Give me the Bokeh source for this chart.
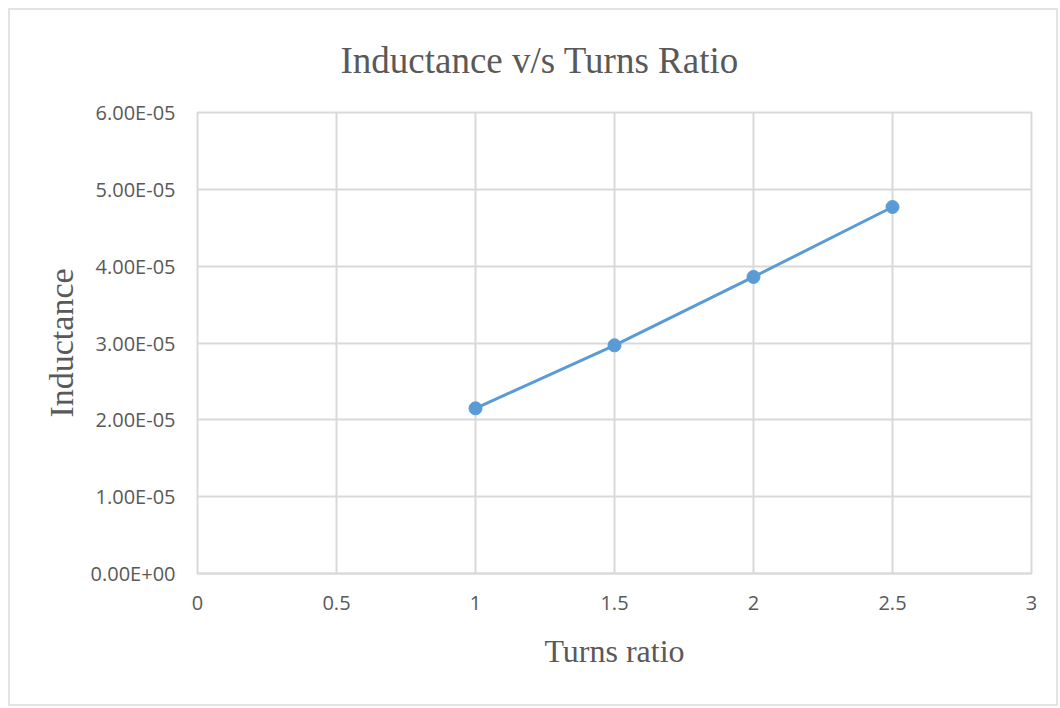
from bokeh.plotting import figure
from bokeh.models import Range1d, FixedTicker, CustomJSTickFormatter, Title
from bokeh.embed import file_html
from bokeh.resources import INLINE

# ---- data ----
turns_ratio = [1.0, 1.5, 2.0, 2.5]
inductance = [2.15e-5, 2.97e-5, 3.86e-5, 4.77e-5]
x_ticks = [0, 0.5, 1, 1.5, 2, 2.5, 3]
x_tick_labels = ["0", "0.5", "1", "1.5", "2", "2.5", "3"]
y_ticks = [0, 1e-5, 2e-5, 3e-5, 4e-5, 5e-5, 6e-5]

title_text = "Inductance v/s Turns Ratio"
x_label = "Turns ratio"
y_label = "Inductance"

GRAY_TXT = "#595959"
GRID = "#d9d9d9"
BLUE = "#5b9bd5"
SERIF = "Liberation Serif"
SANS = "Open Sans"

p = figure(width=1050, height=698, output_backend="svg", toolbar_location=None,
           x_range=Range1d(0, 3), y_range=Range1d(0, 6e-5),
           min_border_left=187, min_border_right=29, min_border_top=102,
           min_border_bottom=135,
           styles={"border": "2px solid #e3e3e3", "box-sizing": "border-box",
                   "margin-left": "8px", "margin-top": "8px"})

p.title = Title(text=title_text, align="left", offset=143, vertical_align="top",
                text_font=SERIF, text_font_size="37px", text_font_style="normal",
                text_color=GRAY_TXT, standoff=59)

p.line(turns_ratio, inductance, line_color=BLUE, line_width=3)
p.scatter(turns_ratio, inductance, size=13, fill_color=BLUE, line_color=BLUE)

# axes
p.xaxis.ticker = FixedTicker(ticks=x_ticks)
p.xaxis.major_label_overrides = {t: l for t, l in zip(x_ticks, x_tick_labels)}
p.yaxis.ticker = FixedTicker(ticks=y_ticks)
p.yaxis.formatter = CustomJSTickFormatter(code="""
    const s = tick.toExponential(2);
    const parts = s.split('e');
    const sign = parts[1][0];
    const d = parts[1].slice(1).padStart(2, '0');
    return parts[0] + 'E' + sign + d;
""")

for ax in (p.xaxis, p.yaxis):
    ax.major_tick_in = 0
    ax.major_tick_out = 0
    ax.minor_tick_in = 0
    ax.minor_tick_out = 0
    ax.major_label_text_font = SANS
    ax.major_label_text_font_size = "20px"
    ax.major_label_text_color = GRAY_TXT
    ax.axis_label_text_font = SERIF
    ax.axis_label_text_font_style = "normal"
    ax.axis_label_text_color = GRAY_TXT

p.xaxis.axis_line_color = GRID
p.xaxis.axis_line_width = 2
p.yaxis.axis_line_color = None
p.xaxis.major_label_standoff = 22
p.yaxis.major_label_standoff = 22

p.xaxis.axis_label = x_label
p.xaxis.axis_label_text_font_size = "32px"
p.xaxis.axis_label_standoff = 20
p.yaxis.axis_label = y_label
p.yaxis.axis_label_text_font_size = "34px"
p.yaxis.axis_label_standoff = 8

p.xgrid.grid_line_color = GRID
p.ygrid.grid_line_color = GRID
p.xgrid.grid_line_width = 2
p.ygrid.grid_line_width = 2
p.outline_line_color = GRID
p.outline_line_width = 2
p.background_fill_color = "white"
p.border_fill_color = "white"

open("out.html", "w").write(file_html(p, INLINE))
